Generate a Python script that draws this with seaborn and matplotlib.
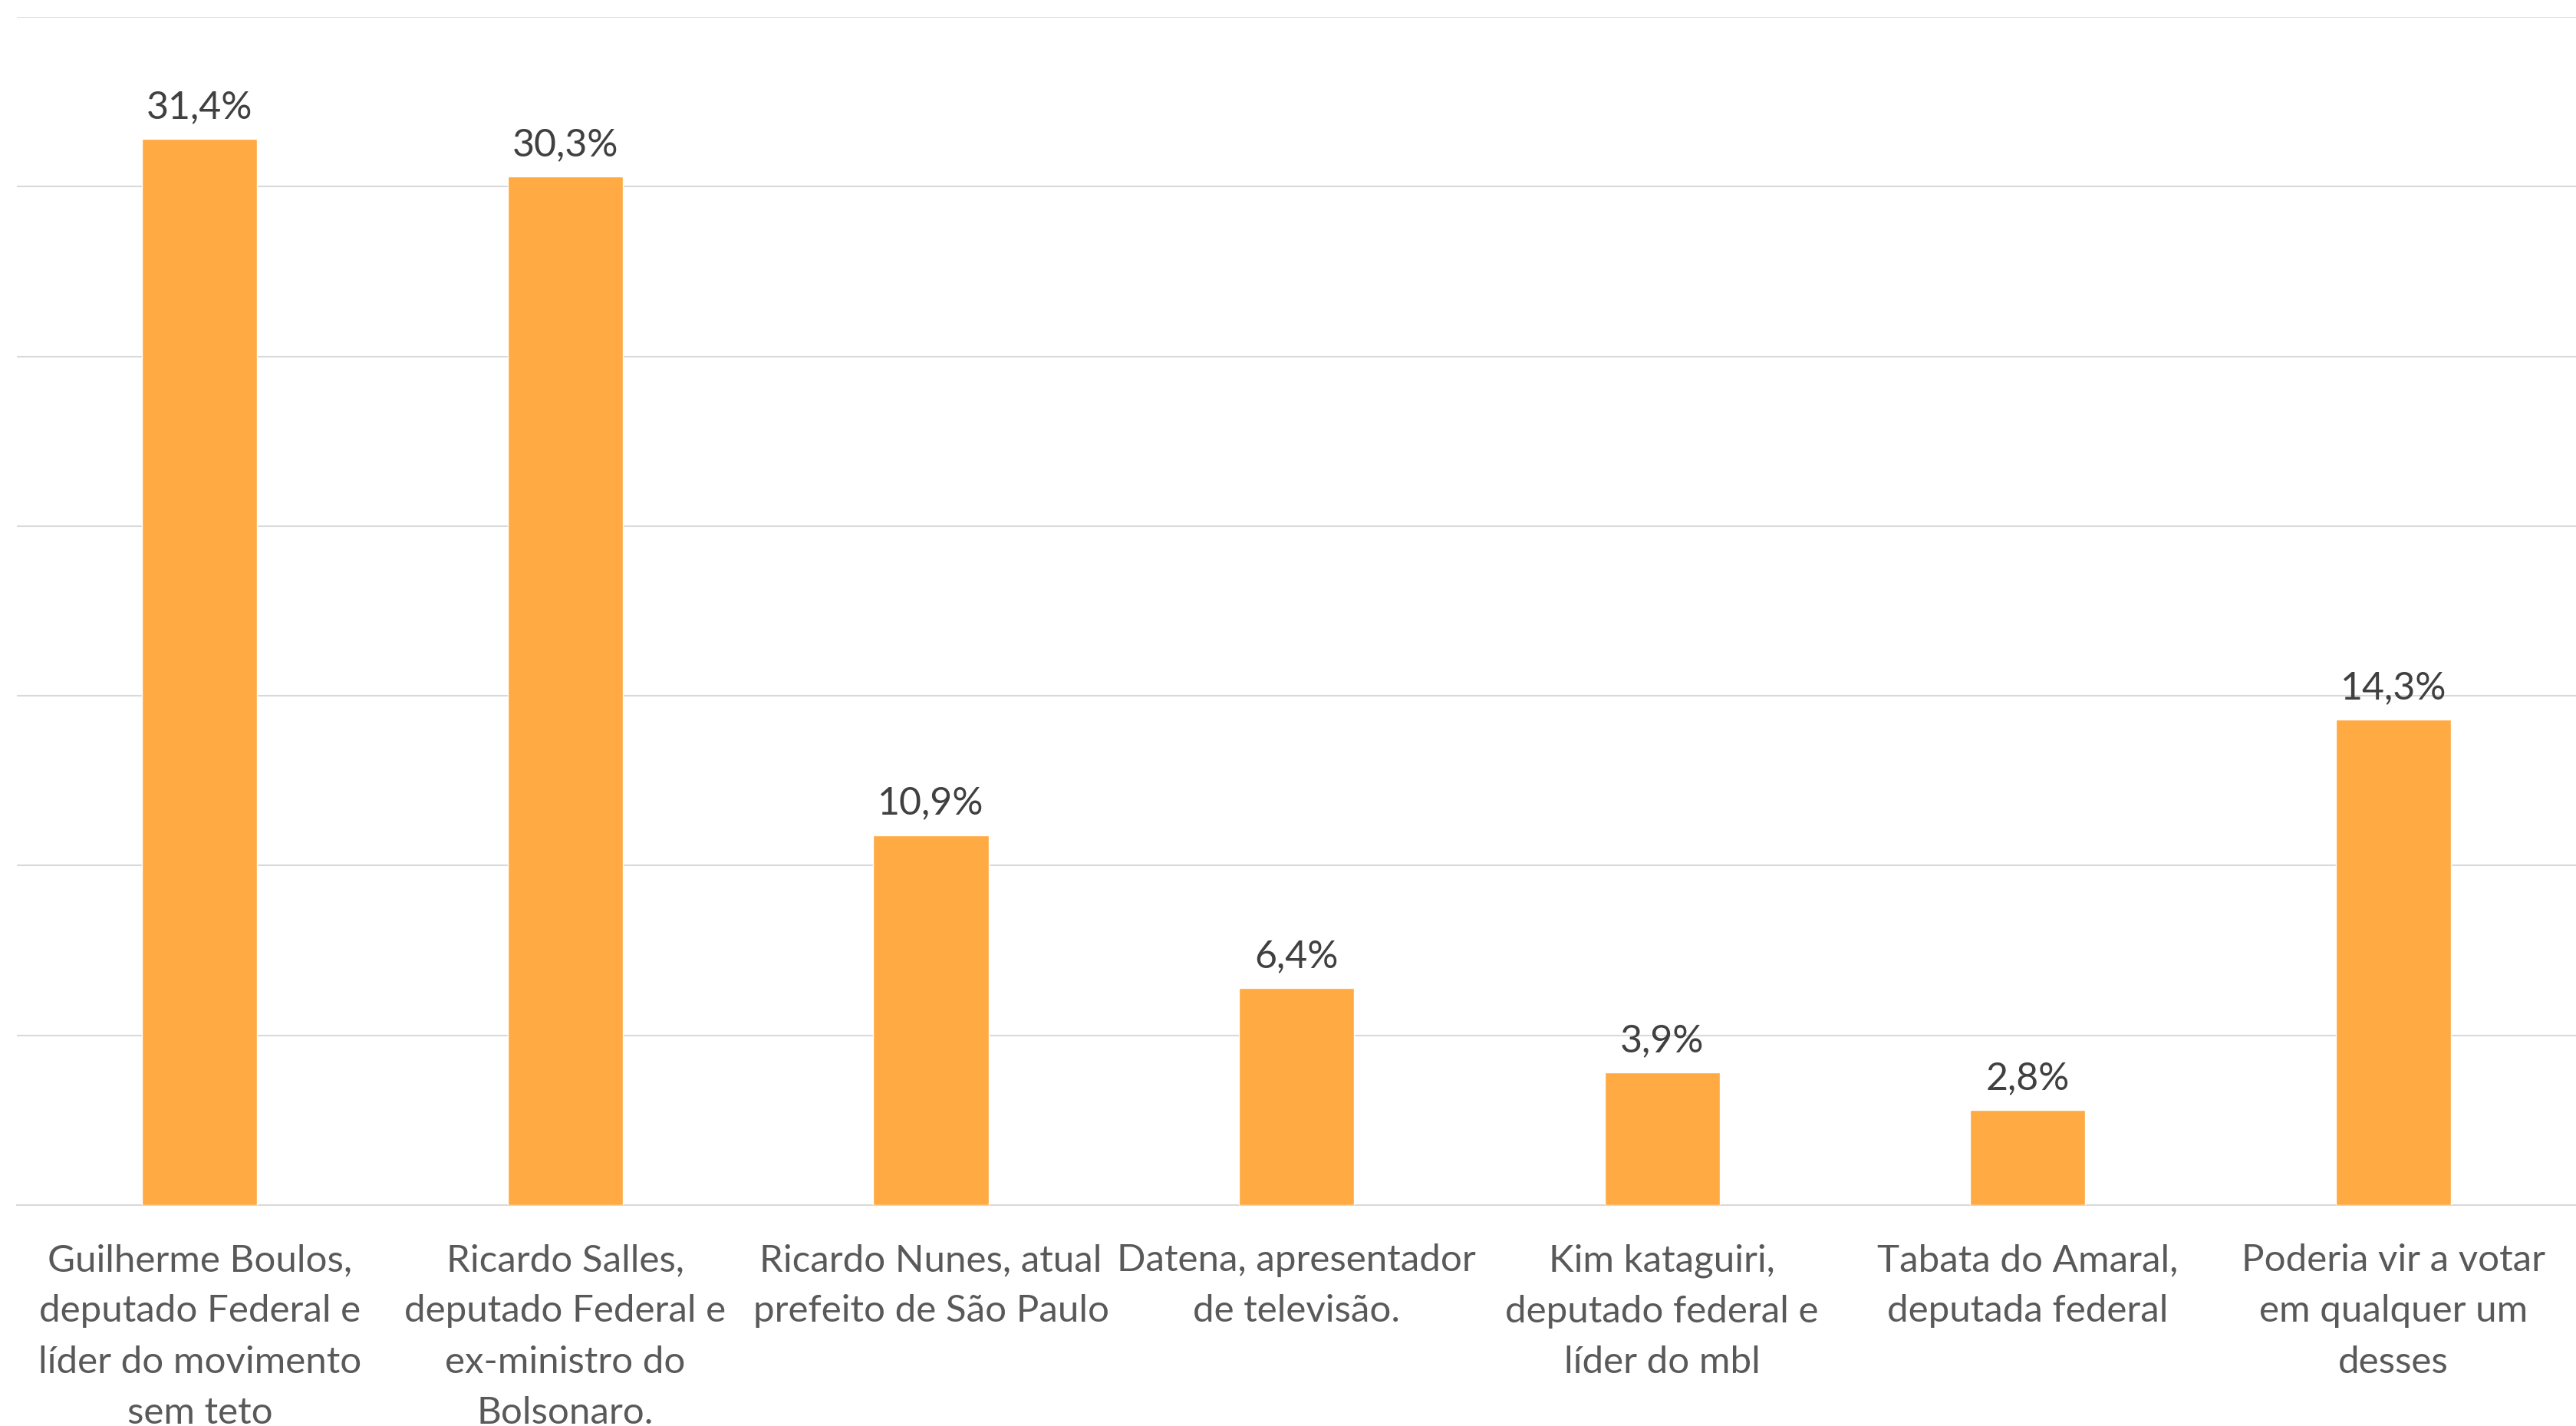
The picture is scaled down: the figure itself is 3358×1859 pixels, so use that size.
import matplotlib
matplotlib.use("Agg")
import matplotlib.pyplot as plt
import seaborn as sns

# Values (percent)
categories = [
    "Guilherme Boulos,\ndeputado Federal e\nlíder do movimento\nsem teto",
    "Ricardo Salles,\ndeputado Federal e\nex-ministro do\nBolsonaro.",
    "Ricardo Nunes, atual\nprefeito de São Paulo",
    "Datena, apresentador\nde televisão.",
    "Kim kataguiri,\ndeputado federal e\nlíder do mbl",
    "Tabata do Amaral,\ndeputada federal",
    "Poderia vir a votar\nem qualquer um\ndesses",
]
values = [31.4, 30.3, 10.9, 6.4, 3.9, 2.8, 14.3]
value_labels = ["31,4%", "30,3%", "10,9%", "6,4%", "3,9%", "2,8%", "14,3%"]

sns.set_theme(style="white")
plt.rcParams["font.family"] = ["Lato", "DejaVu Sans"]

fig = plt.figure(figsize=(33.58, 18.59), dpi=100)
ax = fig.add_axes([0.0066, 0.1549, 0.9934, 0.8333])

sns.barplot(x=categories, y=values, color="#FFAA42", saturation=1,
            width=0.315, ax=ax, zorder=3)

ax.set_ylim(0, 35)
ax.set_xlim(-0.5, 6.5)
ax.set_yticks(range(0, 36, 5))
ax.yaxis.grid(True, color="#D9D9D9", linewidth=1.5, zorder=0)
ax.set_yticklabels([])
ax.tick_params(axis="y", length=0)
ax.tick_params(axis="x", length=0, pad=36, labelsize=35.5, labelcolor="#595959")
for lbl in ax.get_xticklabels():
    lbl.set_linespacing(1.62)
for s in ["top", "right", "left"]:
    ax.spines[s].set_visible(False)
ax.spines["bottom"].set_color("#D9D9D9")
ax.spines["bottom"].set_linewidth(1.5)
ax.set_xlabel("")
ax.set_ylabel("")

ax.bar_label(ax.containers[0], labels=value_labels, padding=13,
             fontsize=36, color="#404040")

fig.savefig("out.png", dpi=100, facecolor="white")
